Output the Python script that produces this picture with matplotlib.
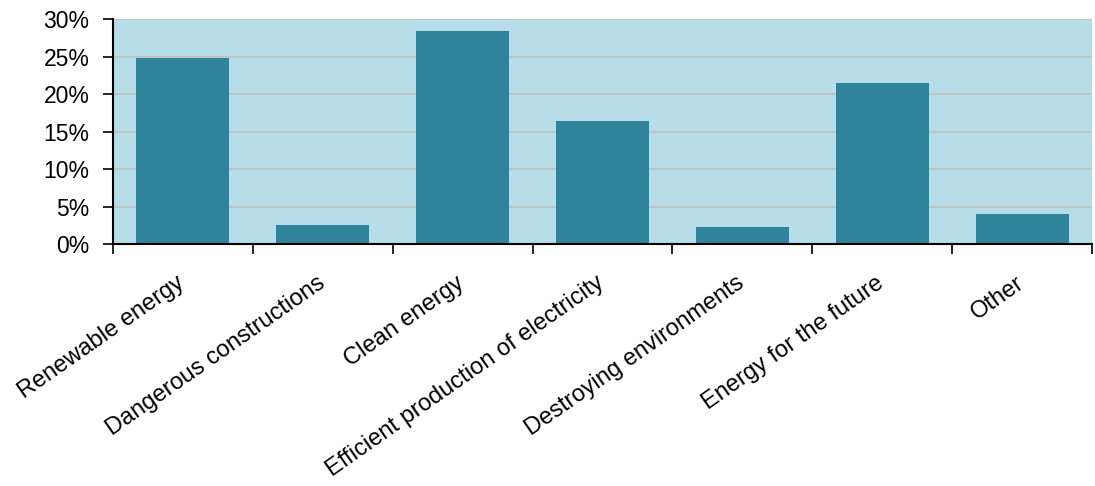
import numpy as np
import matplotlib.pyplot as plt
import matplotlib.transforms as mtransforms
from matplotlib.ticker import FixedLocator, PercentFormatter

categories = ["Renewable energy", "Dangerous constructions", "Clean energy",
              "Efficient production of electricity", "Destroying environments",
              "Energy for the future", "Other"]
shares = [24.9, 2.5, 28.5, 16.4, 2.3, 21.5, 4.0]
y_ticks = [0, 5, 10, 15, 20, 25, 30]

plt.rcParams['font.family'] = ['Liberation Sans', 'DejaVu Sans']


def generate_graph():
    fig = plt.figure(figsize=(10.95, 4.86), dpi=100)
    ax = fig.add_axes([0.1032, 0.498, 0.8941, 0.462])
    ax.set_facecolor("#b7dde8")

    x = np.arange(len(categories))
    ax.bar(x, shares, width=0.665, color="#2f849b", zorder=3)

    ax.set_xlim(-0.5, len(categories) - 0.5)
    ax.set_ylim(0, 30)
    ax.set_yticks(y_ticks)
    ax.yaxis.set_major_formatter(PercentFormatter(decimals=0))
    ax.yaxis.grid(True, color="#c0c0c0", linewidth=1.2, zorder=1)

    # ticks between the categories, labels under the centres
    ax.xaxis.set_major_locator(FixedLocator(np.arange(len(categories) + 1) - 0.5))
    ax.set_xticklabels([])
    ax.xaxis.set_minor_locator(FixedLocator(x))
    ax.set_xticklabels(categories, minor=True, rotation=35, ha="right",
                       va="top", fontsize=17)
    ax.tick_params(axis="x", which="minor", length=0, pad=20)
    ax.tick_params(axis="x", which="major", length=7, width=1.2, direction="out")
    ax.tick_params(axis="y", length=7, width=1.2, labelsize=16.5, pad=10)

    # nudge the slanted labels a little to the right
    shift = mtransforms.ScaledTranslation(6 / 100, 0, fig.dpi_scale_trans)
    for lbl in ax.xaxis.get_minorticklabels():
        lbl.set_transform(lbl.get_transform() + shift)

    for side in ["top", "right"]:
        ax.spines[side].set_visible(False)
    ax.spines["left"].set_linewidth(1.5)
    ax.spines["bottom"].set_linewidth(1.5)
    ax.spines["left"].set_zorder(4)
    ax.spines["bottom"].set_zorder(4)

    fig.savefig("out.png", dpi=100)


def main():
    generate_graph()


if __name__ == '__main__':
    main()
